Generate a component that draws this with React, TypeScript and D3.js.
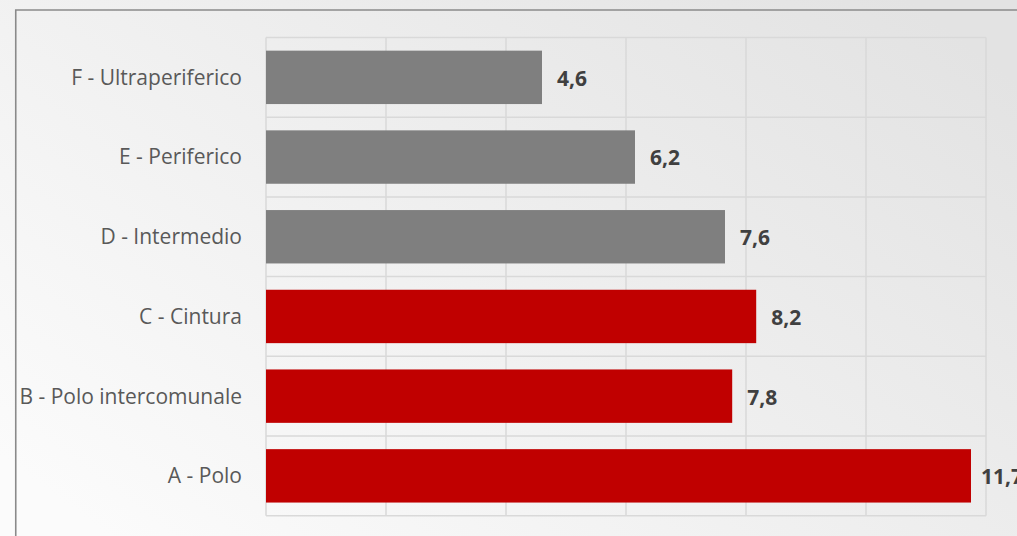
import React, { useEffect } from "react";
import * as d3 from "d3";

const categories = [
  "F - Ultraperiferico",
  "E - Periferico",
  "D - Intermedio",
  "C - Cintura",
  "B - Polo intercomunale",
  "A - Polo",
];
const values = [4.6, 6.15, 7.65, 8.17, 7.77, 11.75];
const valueLabels = ["4,6", "6,2", "7,6", "8,2", "7,8", "11,7"];
const barColors = ["#7f7f7f", "#7f7f7f", "#7f7f7f", "#c00000", "#c00000", "#c00000"];
const xTicks = [0, 2, 4, 6, 8, 10, 12];

const W = 1017;
const H = 536;
const plot = { left: 266, right: 986, top: 37.5, bottom: 515.7 };

export default function App() {
  useEffect(() => {
    document.body.style.margin = "0";
  }, []);

  const x = d3.scaleLinear().domain([0, 12]).range([plot.left, plot.right]);
  const y = d3
    .scaleBand<string>()
    .domain(categories)
    .range([plot.top, plot.bottom])
    .paddingInner(0.33)
    .paddingOuter(0.165);

  const bandEdges = d3
    .range(categories.length + 1)
    .map((i) => plot.top + ((plot.bottom - plot.top) / categories.length) * i);
  const font = "'Open Sans', 'Noto Sans', sans-serif";

  return (
    <svg width={W} height={H} style={{ display: "block", position: "absolute", left: 0, top: 0 }}>
      <defs>
        <linearGradient id="bg" x1="0" y1="0.85" x2="1" y2="0.15">
          <stop offset="0" stopColor="#fbfbfb" />
          <stop offset="1" stopColor="#e3e3e3" />
        </linearGradient>
      </defs>
      <rect x={0} y={0} width={W} height={H} fill="url(#bg)" />
      <path d={`M15.75,${H} V10 H${W}`} fill="none" stroke="#8a8a8a" strokeWidth={1.6} />
      <g stroke="#d9d9d9" strokeWidth={1.5}>
        {xTicks.map((t) => (
          <line key={"v" + t} x1={x(t)} x2={x(t)} y1={plot.top} y2={plot.bottom} />
        ))}
        {bandEdges.map((b, i) => (
          <line key={"h" + i} x1={plot.left} x2={plot.right} y1={b} y2={b} />
        ))}
      </g>
      {categories.map((c, i) => (
        <rect
          key={c}
          x={x(0)}
          y={y(c)!}
          width={x(values[i]) - x(0)}
          height={y.bandwidth()}
          fill={barColors[i]}
        />
      ))}
      {categories.map((c) => (
        <text
          key={"l" + c}
          x={plot.left - 24}
          y={y(c)! + y.bandwidth() / 2}
          dy="0.35em"
          textAnchor="end"
          fontFamily={font}
          fontSize={21}
          fill="#595959"
        >
          {c}
        </text>
      ))}
      {categories.map((c, i) => (
        <text
          key={"v" + c}
          x={Math.min(x(values[i]) + 15, plot.right - 5)}
          y={y(c)! + y.bandwidth() / 2 + 1}
          dy="0.35em"
          fontFamily={font}
          fontSize={21}
          fontWeight="bold"
          fill="#404040"
        >
          {valueLabels[i]}
        </text>
      ))}
    </svg>
  );
}
